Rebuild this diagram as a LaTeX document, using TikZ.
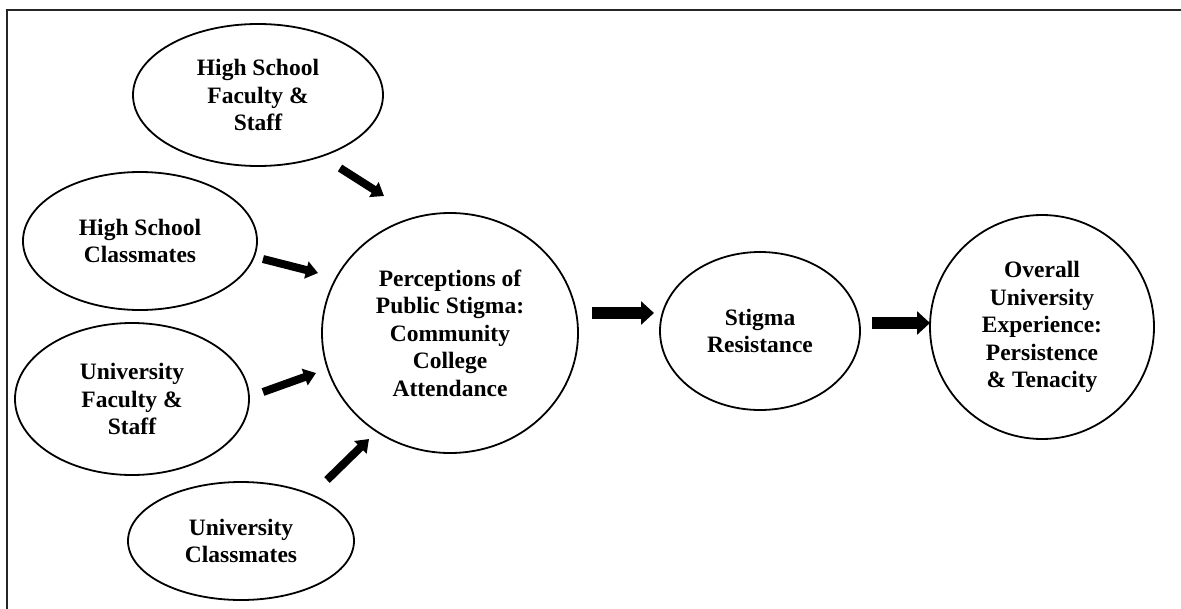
\documentclass[tikz,border=0pt]{standalone}
\usepackage{fontspec}
\setmainfont{Liberation Serif}
\usetikzlibrary{arrows.meta,shapes.geometric}
\begin{document}
\begin{tikzpicture}[x=1pt,y=-1pt,
  oval/.style={draw, line width=1.8pt, ellipse, inner sep=0pt, align=center,
    font=\fontsize{23.5}{27.5}\selectfont\bfseries},
  thinarrow/.style={line width=8pt, -{Triangle[length=12pt,width=17pt]}},
  bigarrow/.style={line width=12pt, -{Triangle[length=13pt,width=23pt]}},
  frame/.style={line width=1.6pt, draw=black!85}]
\useasboundingbox (0,0) rectangle (1181,608);
\draw[frame] (7,620) -- (7,10) -- (1195,10);

\node[oval, minimum width=250pt, minimum height=142pt] (hsf) at (258,95) {High School\\Faculty \&\\Staff};
\node[oval, minimum width=234pt, minimum height=138pt] (hsc) at (140,241) {High School\\Classmates};
\node[oval, minimum width=234pt, minimum height=152pt] (uf) at (132,399) {University\\Faculty \&\\Staff};
\node[oval, minimum width=226pt, minimum height=118pt] (uc) at (241,541) {University\\Classmates};
\node[oval, minimum width=256pt, minimum height=240pt] (pp) at (450,333) {Perceptions of\\Public Stigma:\\Community\\College\\Attendance};
\node[oval, minimum width=200pt, minimum height=158pt] (sr) at (760,331) {Stigma\\Resistance};
\node[oval, minimum width=224pt, minimum height=224pt] (ou) at (1042,327) {Overall\\University\\Experience:\\Persistence\\\& Tenacity};

\coordinate (a1s) at (340,168); \coordinate (a1e) at (384,196);
\coordinate (a2s) at (263,259); \coordinate (a2e) at (318,273);
\coordinate (a3s) at (263,392); \coordinate (a3e) at (316,373);
\coordinate (a4s) at (327,480); \coordinate (a4e) at (369,439);
\coordinate (a5s) at (592,313); \coordinate (a5e) at (654,313);
\coordinate (a6s) at (872,323); \coordinate (a6e) at (930,323);

\draw[thinarrow] (a1s) -- (a1e);
\draw[thinarrow] (a2s) -- (a2e);
\draw[thinarrow] (a3s) -- (a3e);
\draw[thinarrow] (a4s) -- (a4e);
\draw[bigarrow] (a5s) -- (a5e);
\draw[bigarrow] (a6s) -- (a6e);
\end{tikzpicture}
\end{document}
